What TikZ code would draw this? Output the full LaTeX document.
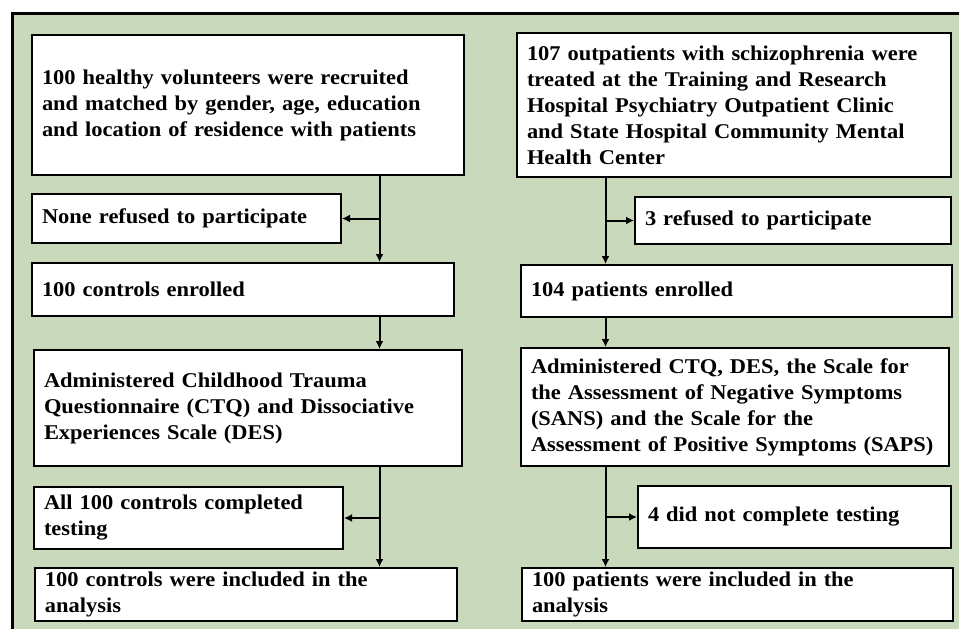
\documentclass[tikz,border=0pt]{standalone}
\usepackage{fontspec}
\setmainfont[FakeStretch=1.07]{Liberation Serif}
\usetikzlibrary{arrows.meta}
\definecolor{panel}{RGB}{200,217,188}
\begin{document}
\begin{tikzpicture}[x=1pt,y=-1pt,
  box/.style={draw,line width=2pt,fill=white,inner xsep=10pt,inner ysep=0pt,align=left,
    font=\fontsize{21}{26}\selectfont\bfseries},
  flow/.style={line width=2pt,-{Latex[length=8pt,width=8pt]}}]

\useasboundingbox (0,0) rectangle (959,629);
\clip (0,0) rectangle (959,629);
\draw[line width=3pt,fill=panel] (12,13) rectangle (990,660);

\coordinate (cl) at (379.5,0);
\coordinate (cr) at (605.5,0);

\draw (248,105) node[box,minimum width=432,minimum height=140,text width=412] (vol) {100 healthy volunteers were recruited\\and matched by gender, age, education\\and location of residence with patients};
\draw (186.5,218.5) node[box,minimum width=309,minimum height=49,text width=289] (refl) {None refused to participate};
\draw (243,289.5) node[box,minimum width=422,minimum height=53,text width=402] (enl) {100 controls enrolled};
\draw (248,408) node[box,minimum width=428,minimum height=116,text width=408] (adml) {Administered Childhood Trauma\\Questionnaire (CTQ) and Dissociative\\Experiences Scale (DES)};
\draw (188.5,518) node[box,minimum width=309,minimum height=62,text width=289] (cmpl) {All 100 controls completed\\testing};
\draw (246,594.5) node[box,minimum width=422,minimum height=53,text width=402] (incl) {100 controls were included in the\\analysis};

\draw (734,105) node[box,minimum width=434,minimum height=144,text width=414] (pat) {107 outpatients with schizophrenia were\\treated at the Training and Research\\Hospital Psychiatry Outpatient Clinic\\and State Hospital Community Mental\\Health Center};
\draw (793,220.5) node[box,minimum width=316,minimum height=47,text width=296] (refr) {3 refused to participate};
\draw (736.5,291) node[box,minimum width=431,minimum height=52,text width=411] (enr) {104 patients enrolled};
\draw (735,407) node[box,minimum width=428,minimum height=118,text width=408] (admr) {Administered CTQ, DES, the Scale for\\the Assessment of Negative Symptoms\\(SANS) and the Scale for the\\Assessment of Positive Symptoms (SAPS)};
\draw (794.5,517) node[box,minimum width=313,minimum height=62,text width=293] (cmpr) {4 did not complete testing};
\draw (737.5,594.5) node[box,minimum width=431,minimum height=53,text width=411] (incr) {100 patients were included in the\\analysis};

\draw[flow] (vol.south -| cl) -- (enl.north -| cl);
\draw[flow] (refl.east -| cl) -- (refl.east);
\draw[flow] (enl.south -| cl) -- (adml.north -| cl);
\draw[flow] (adml.south -| cl) -- (incl.north -| cl);
\draw[flow] (cmpl.east -| cl) -- (cmpl.east);

\draw[flow] (pat.south -| cr) -- (enr.north -| cr);
\draw[flow] (refr.west -| cr) -- (refr.west);
\draw[flow] (enr.south -| cr) -- (admr.north -| cr);
\draw[flow] (admr.south -| cr) -- (incr.north -| cr);
\draw[flow] (cmpr.west -| cr) -- (cmpr.west);
\end{tikzpicture}
\end{document}
